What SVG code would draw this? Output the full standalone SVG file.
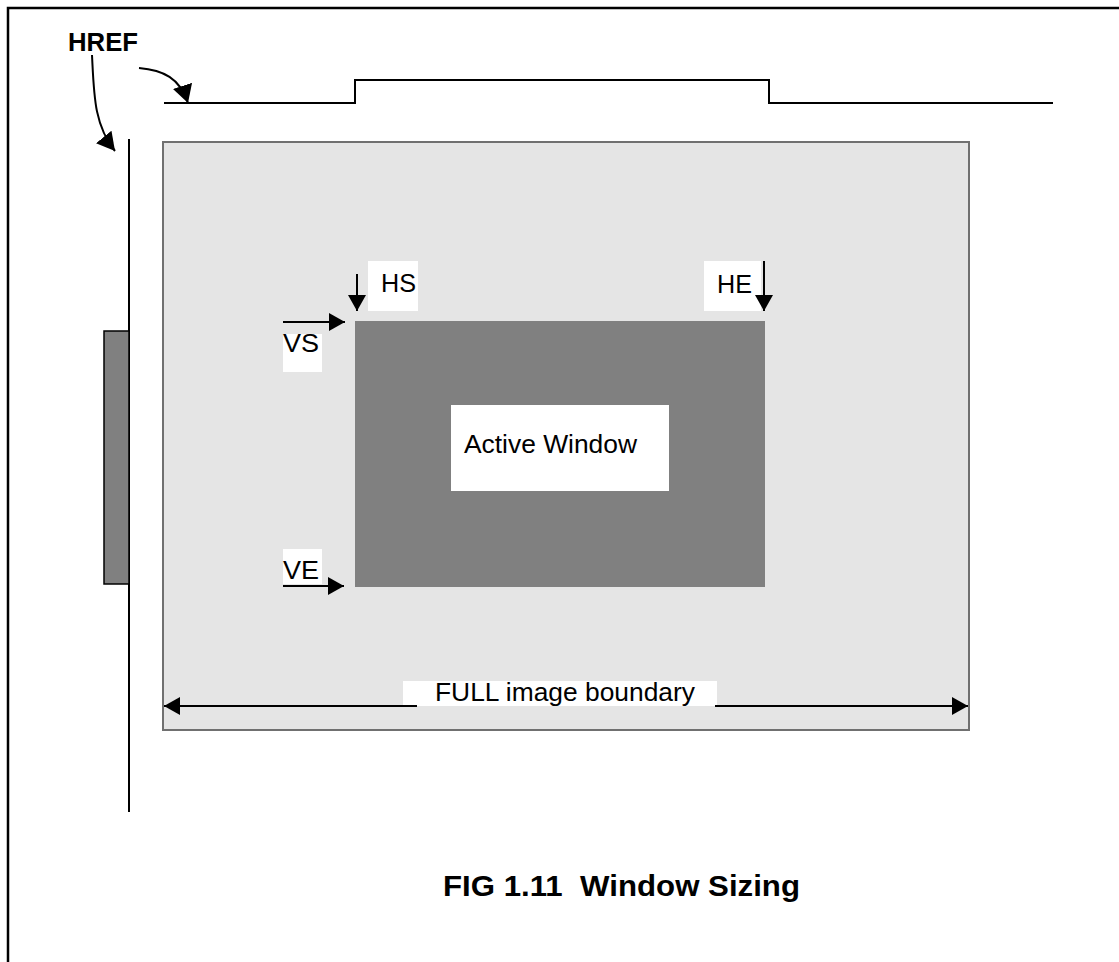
<svg xmlns="http://www.w3.org/2000/svg" width="1119" height="962" viewBox="0 0 1119 962">
<style>
.t{font-family:"Liberation Sans",Arial,sans-serif;font-size:26px;fill:#000}
.b{font-family:"Liberation Sans",Arial,sans-serif;font-weight:bold;fill:#000}
.ln{stroke:#000;stroke-width:2;fill:none}
.lab{fill:#fff}
</style>
<defs>
<marker id="ah2" viewBox="0 0 16 18" refX="16" refY="9" markerWidth="16" markerHeight="18" markerUnits="userSpaceOnUse" orient="auto">
<path d="M0,0 L16,9 L0,18 Z" fill="#000"/>
</marker>
<marker id="ah3" viewBox="0 0 18 20" refX="18" refY="10" markerWidth="18" markerHeight="20" markerUnits="userSpaceOnUse" orient="auto">
<path d="M0,0 L18,10 L0,20 Z" fill="#000"/>
</marker>
</defs>
<rect width="1119" height="962" fill="#fff"/>
<g id="frame">
<path d="M8,962 V8 H1119" stroke="#000" stroke-width="2.5" fill="none"/>
</g>
<g id="href-wave">
<path class="ln" d="M164,103 H355 V80 H769 V103 H1053"/>
<path class="ln" d="M129,139 V812"/>
<rect x="104" y="331" width="25" height="253" fill="#808080" stroke="#000" stroke-width="1.5"/>
</g>
<g id="full-image">
<rect x="163" y="142" width="806" height="588" fill="#e5e5e5" stroke="#707070" stroke-width="2"/>
</g>
<g id="active-window">
<rect x="355" y="321" width="410" height="266" fill="#808080"/>
<rect class="lab" x="451" y="405" width="218" height="86"/>
<text class="t" x="464" y="453" textLength="173" lengthAdjust="spacingAndGlyphs">Active Window</text>
</g>
<g id="labels">
<text class="b" x="68" y="51" font-size="26" textLength="70" lengthAdjust="spacingAndGlyphs">HREF</text>
<rect class="lab" x="368" y="261" width="50" height="50"/>
<text class="t" x="381" y="292" textLength="35" lengthAdjust="spacingAndGlyphs">HS</text>
<rect class="lab" x="704" y="261" width="57" height="50"/>
<text class="t" x="717" y="293" textLength="35" lengthAdjust="spacingAndGlyphs">HE</text>
<rect class="lab" x="283" y="334" width="39" height="38"/>
<text class="t" x="283" y="352" textLength="36" lengthAdjust="spacingAndGlyphs">VS</text>
<rect class="lab" x="283" y="549" width="39" height="35"/>
<text class="t" x="283" y="579" textLength="36" lengthAdjust="spacingAndGlyphs">VE</text>
<rect class="lab" x="403" y="681" width="314" height="25"/>
<text class="t" x="435" y="701" textLength="260" lengthAdjust="spacingAndGlyphs">FULL image boundary</text>
<text class="b" x="443" y="896" font-size="30" xml:space="preserve" style="white-space:pre" textLength="357" lengthAdjust="spacingAndGlyphs">FIG 1.11  Window Sizing</text>
</g>
<g id="connectors">
<path class="ln" stroke-width="1.3" d="M139,68 C163,70 180,78 188,103" marker-end="url(#ah3)"/>
<path class="ln" stroke-width="1.3" d="M92,55 C94,95 94,125 115,151" marker-end="url(#ah3)"/>
<path class="ln" d="M357,274 V311" marker-end="url(#ah2)"/>
<path class="ln" d="M764,261 V311" marker-end="url(#ah2)"/>
<path class="ln" d="M283,322 H345" marker-end="url(#ah2)"/>
<path class="ln" d="M283,586 H344" marker-end="url(#ah2)"/>
<path class="ln" d="M417,706 H164" marker-end="url(#ah2)"/>
<path class="ln" d="M715,706 H968" marker-end="url(#ah2)"/>
</g>
</svg>
